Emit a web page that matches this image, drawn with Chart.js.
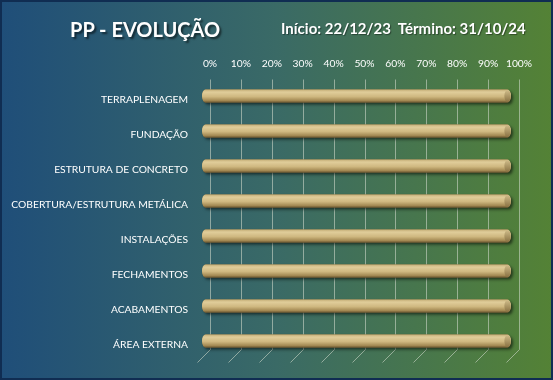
<!DOCTYPE html>
<html>
<head>
<meta charset="utf-8">
<script src="https://cdn.jsdelivr.net/npm/chart.js@4"></script>
<style>
  body { margin: 0; }
  #wrap {
    position: relative; width: 553px; height: 380px; overflow: hidden;
    background: linear-gradient(to right, #1f4e79 0%, #3a6a66 50%, #548235 100%);
  }
  #frame {
    position: absolute; left: 0; top: 0; width: 553px; height: 380px;
    box-sizing: border-box; border: 2px solid #102d52; pointer-events: none;
  }
  canvas { position: absolute; left: 0; top: 0; }
  .t { position: absolute; color: #fff; font-family: Lato, "Open Sans", sans-serif; font-weight: bold; white-space: nowrap; }
  #title { left: 70px; top: 17px; font-size: 20px; text-shadow: 2px 2px 2px rgba(0,0,0,0.55); }
  #sub { left: 281px; top: 19px; font-size: 15px; text-shadow: 1px 1px 1px rgba(0,0,0,0.4); }
</style>
</head>
<body>
<div id="wrap">
  <canvas id="chart" width="553" height="380"></canvas>
  <div class="t" id="title">PP - EVOLUÇÃO</div>
  <div class="t" id="sub">Início: 22/12/23&nbsp; Término: 31/10/24</div>
  <div id="frame"></div>
</div>
<script>
// etapas da obra
const etapas = [
    'TERRAPLENAGEM',
    'FUNDAÇÃO',
    'ESTRUTURA DE CONCRETO',
    'COBERTURA/ESTRUTURA METÁLICA',
    'INSTALAÇÕES',
    'FECHAMENTOS',
    'ACABAMENTOS',
    'ÁREA EXTERNA'
];
// percentual concluído (0..1)
const progresso = [1, 1, 1, 1, 1, 1, 1, 1];
const escalaMin = 0;
const escalaMax = 1;
const escalaPasso = 0.1;

const FONT = 'Lato, "Open Sans", sans-serif';
const DEPTH = 13; // profundidade do "3D"

// grade em perspectiva (parede de fundo + piso)
const gradePlugin = {
    id: 'grade3d',
    beforeDatasetsDraw(chart) {
        const { ctx, chartArea } = chart;
        const xs = chart.scales.x;
        const top = chartArea.top - 3;
        const bottom = chartArea.bottom - DEPTH;
        ctx.save();
        ctx.strokeStyle = 'rgba(205,215,200,0.6)';
        ctx.lineWidth = 1;
        xs.ticks.forEach(t => {
            const x = Math.round(xs.getPixelForValue(t.value)) + 0.5;
            ctx.beginPath();
            ctx.moveTo(x, top);
            ctx.lineTo(x, bottom);
            ctx.lineTo(x - DEPTH, bottom + DEPTH);
            ctx.stroke();
        });
        ctx.restore();
    }
};

function caminhoCilindro(ctx, x0, x1, yc, h, rx) {
    ctx.beginPath();
    ctx.ellipse(x0 + rx, yc, rx, h / 2, 0, Math.PI / 2, Math.PI * 1.5);
    ctx.lineTo(x1 - rx, yc - h / 2);
    ctx.ellipse(x1 - rx, yc, rx, h / 2, 0, -Math.PI / 2, Math.PI / 2);
    ctx.closePath();
}

// barras cilíndricas
const cilindroPlugin = {
    id: 'cilindro',
    afterDatasetsDraw(chart) {
        const { ctx } = chart;
        const meta = chart.getDatasetMeta(0);
        ctx.save();
        ctx.translate(-8, -4);
        meta.data.forEach(bar => {
            const x0 = bar.base, x1 = bar.x;
            const h = bar.height, y0 = bar.y - h / 2, y1 = bar.y + h / 2;
            const rx = 3.5;
            // sombra
            ctx.save();
            ctx.shadowColor = 'rgba(0,0,0,0.55)';
            ctx.shadowBlur = 3;
            ctx.shadowOffsetX = 2;
            ctx.shadowOffsetY = 2;
            ctx.fillStyle = '#8a7445';
            caminhoCilindro(ctx, x0, x1, bar.y, h, rx);
            ctx.fill();
            ctx.restore();
            // corpo
            const g = ctx.createLinearGradient(0, y0, 0, y1);
            g.addColorStop(0, '#c4ad76');
            g.addColorStop(0.2, '#e0cd9a');
            g.addColorStop(0.55, '#cfb880');
            g.addColorStop(0.85, '#a38953');
            g.addColorStop(1, '#6b5630');
            ctx.fillStyle = g;
            caminhoCilindro(ctx, x0, x1, bar.y, h, rx);
            ctx.fill();
            // tampa da direita
            const g2 = ctx.createLinearGradient(0, y0, 0, y1);
            g2.addColorStop(0, '#d2bf8c');
            g2.addColorStop(1, '#876f40');
            ctx.fillStyle = g2;
            ctx.beginPath();
            ctx.ellipse(x1 - rx, bar.y, rx * 0.9, h / 2 - 0.5, 0, 0, Math.PI * 2);
            ctx.fill();
        });
        ctx.restore();
    }
};

new Chart(document.getElementById('chart'), {
    type: 'bar',
    data: {
        labels: etapas,
        datasets: [{
            data: progresso,
            backgroundColor: 'rgba(0,0,0,0)',
            barThickness: 13
        }]
    },
    options: {
        indexAxis: 'y',
        responsive: false,
        animation: false,
        layout: { padding: { top: 0, left: 0, right: 34, bottom: 17.5 } },
        plugins: { legend: { display: false }, tooltip: { enabled: false } },
        scales: {
            x: {
                position: 'top',
                min: escalaMin,
                max: escalaMax,
                grid: { display: false },
                border: { display: false },
                ticks: {
                    stepSize: escalaPasso,
                    color: '#ffffff',
                    padding: 5,
                    maxRotation: 0,
                    minRotation: 0,
                    autoSkip: false,
                    font: { family: FONT, size: 10.3 },
                    callback: v => Math.round(v * 100) + '%'
                },
                afterFit: s => { s.height = 82.5; }
            },
            y: {
                grid: {
                    drawOnChartArea: false,
                    drawTicks: true,
                    tickLength: 22,
                    color: 'rgba(0,0,0,0)'
                },
                border: { display: false },
                ticks: {
                    color: '#ffffff',
                    padding: 0,
                    font: { family: FONT, size: 10.3 }
                },
                afterFit: s => { s.width = 210; }
            }
        }
    },
    plugins: [gradePlugin, cilindroPlugin]
});
</script>
</body>
</html>
